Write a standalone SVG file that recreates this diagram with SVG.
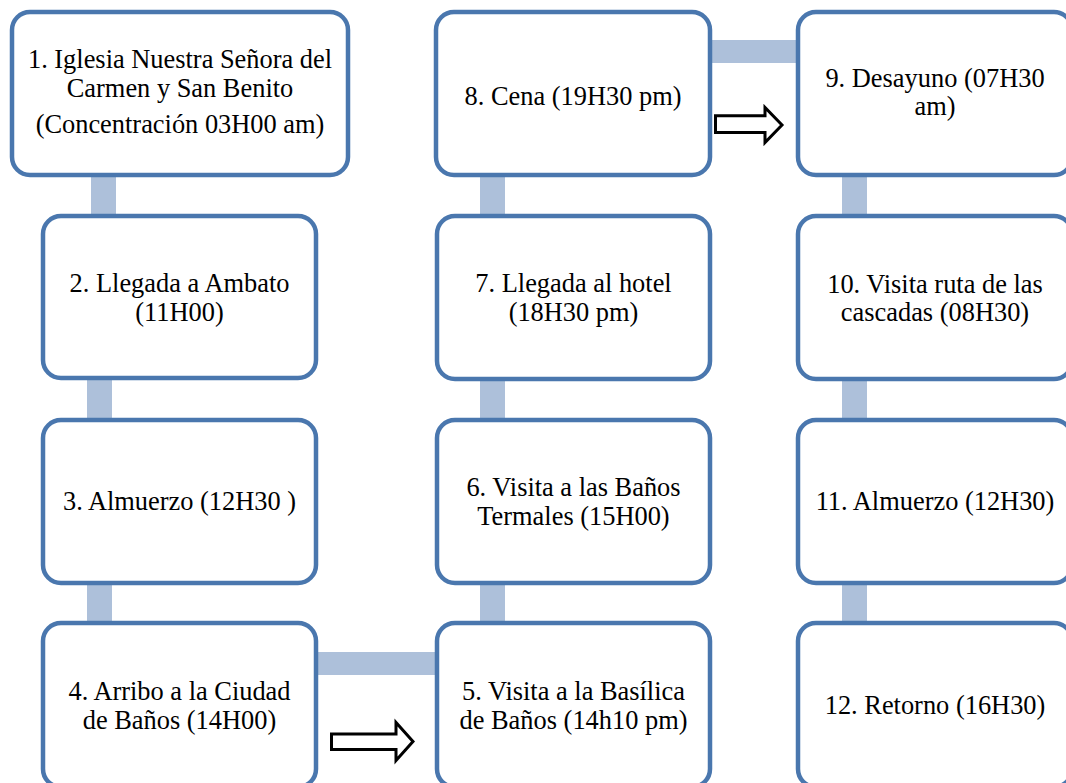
<svg xmlns="http://www.w3.org/2000/svg" width="1066" height="783" viewBox="0 0 1066 783">
<style>
.node rect{fill:#ffffff;stroke:#4a77ae;stroke-width:4.5}
.bar{fill:#adc0da}
.blk{fill:#ffffff;stroke:#000000;stroke-width:3;stroke-linejoin:miter}
text{font-family:"Liberation Serif","Times New Roman",serif;font-size:26.4px;fill:#000000;text-anchor:middle}
</style>
<rect width="1066" height="783" fill="#ffffff"/>
<g id="connectors">
<rect class="bar" x="91" y="170" width="25" height="50"/>
<rect class="bar" x="87" y="374" width="25" height="50"/>
<rect class="bar" x="87" y="579" width="25" height="48"/>
<rect class="bar" x="312" y="652" width="129" height="23"/>
<rect class="bar" x="480" y="579" width="25" height="48"/>
<rect class="bar" x="480" y="374" width="25" height="50"/>
<rect class="bar" x="480" y="170" width="25" height="50"/>
<rect class="bar" x="706" y="40" width="96" height="23"/>
<rect class="bar" x="842" y="170" width="25" height="50"/>
<rect class="bar" x="842" y="374" width="25" height="50"/>
<rect class="bar" x="842" y="579" width="25" height="48"/>
</g>
<g id="n1" class="node"><rect x="12" y="12" width="336" height="163" rx="18"/>
<text x="180" y="68">1. Iglesia Nuestra Señora del</text><text x="180" y="97">Carmen y San Benito</text><text x="180" y="133">(Concentración 03H00 am)</text></g>
<g id="n2" class="node"><rect x="43" y="216" width="273" height="162" rx="18"/>
<text x="179.5" y="292">2. Llegada a Ambato</text><text x="179.5" y="321">(11H00)</text></g>
<g id="n3" class="node"><rect x="43" y="420" width="273" height="163" rx="18"/>
<text x="179.5" y="510">3. Almuerzo (12H30 )</text></g>
<g id="n4" class="node"><rect x="43" y="623" width="273" height="164" rx="18"/>
<text x="179.5" y="700">4. Arribo a la Ciudad</text><text x="179.5" y="729">de Baños (14H00)</text></g>
<g id="n5" class="node"><rect x="437" y="623" width="273" height="164" rx="18"/>
<text x="573.5" y="700">5. Visita a la Basílica</text><text x="573.5" y="729">de Baños (14h10 pm)</text></g>
<g id="n6" class="node"><rect x="437" y="420" width="273" height="163" rx="18"/>
<text x="573.5" y="496">6. Visita a las Baños</text><text x="573.5" y="525">Termales (15H00)</text></g>
<g id="n7" class="node"><rect x="437" y="216" width="273" height="163" rx="18"/>
<text x="573.5" y="292">7. Llegada al hotel</text><text x="573.5" y="321">(18H30 pm)</text></g>
<g id="n8" class="node"><rect x="436" y="12" width="274" height="163" rx="18"/>
<text x="573" y="105">8. Cena (19H30 pm)</text></g>
<g id="n9" class="node"><rect x="798" y="12" width="274" height="163" rx="18"/>
<text x="935" y="87">9. Desayuno (07H30</text><text x="935" y="115">am)</text></g>
<g id="n10" class="node"><rect x="798" y="216" width="274" height="163" rx="18"/>
<text x="935" y="293">10. Visita ruta de las</text><text x="935" y="321">cascadas (08H30)</text></g>
<g id="n11" class="node"><rect x="798" y="420" width="274" height="163" rx="18"/>
<text x="935" y="510">11. Almuerzo (12H30)</text></g>
<g id="n12" class="node"><rect x="798" y="623" width="274" height="164" rx="18"/>
<text x="935" y="714">12. Retorno (16H30)</text></g>
<g id="arrows">
<polygon class="blk" points="715.5,115.8 765,115.8 765,107.5 782,125 765,142.5 765,132.5 715.5,132.5"/>
<polygon class="blk" points="331.5,734 396,734 396,722.5 413,741.5 396,760.5 396,749.5 331.5,749.5"/>
</g>
</svg>
